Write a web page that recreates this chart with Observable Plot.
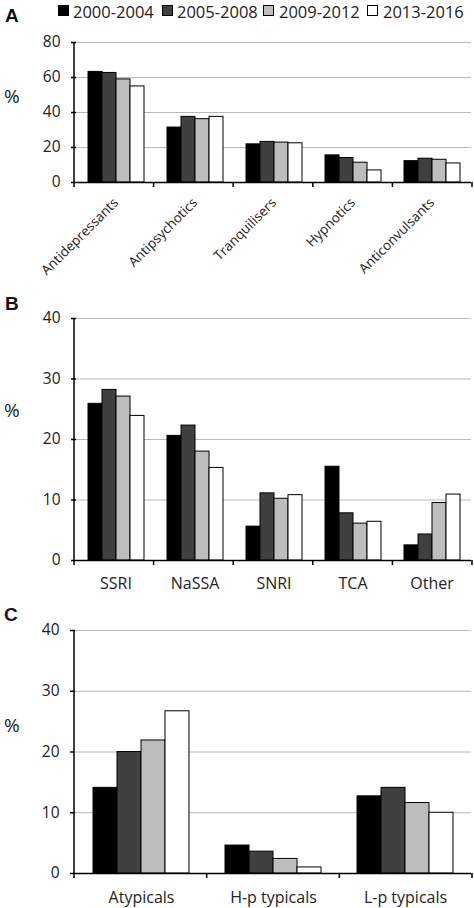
<!DOCTYPE html>
<html>
<head>
<meta charset="utf-8">
<script src="https://cdn.jsdelivr.net/npm/d3@7"></script>
<script src="https://cdn.jsdelivr.net/npm/@observablehq/plot@0.6"></script>
<style>
  html, body { margin: 0; padding: 0; background: #fff; }
  #wrap { position: relative; width: 474px; height: 908px; font-family: "Open Sans", sans-serif; color: #222; overflow: hidden; }
  .panel { position: absolute; left: 0; }
  .letter { position: absolute; font-family: "Liberation Sans", Arial, sans-serif; font-weight: bold; font-size: 19px; line-height: 19px; color: #111; }
  .pct { position: absolute; font-size: 19px; line-height: 19px; color: #222; }
  #legend { position: absolute; top: 0; left: 0; width: 474px; height: 24px; font-size: 16.5px; }
  #legend .sw { position: absolute; top: 5px; width: 9px; height: 9px; border: 1px solid #000; }
  #legend .lab { position: absolute; top: 0px; white-space: nowrap; }
</style>
</head>
<body>
<div id="wrap">
  <div id="legend"></div>
  <div class="letter" style="left:5px;top:6px">A</div>
  <div class="letter" style="left:5px;top:294px">B</div>
  <div class="letter" style="left:4px;top:605px">C</div>
  <div class="pct" style="left:4px;top:87px">%</div>
  <div class="pct" style="left:4px;top:401px">%</div>
  <div class="pct" style="left:4px;top:716px">%</div>
  <div id="pa" class="panel" style="top:0px"></div>
  <div id="pb" class="panel" style="top:290px"></div>
  <div id="pc" class="panel" style="top:600px"></div>
</div>
<script>
// ---- data ----
const periods = ["2000-2004", "2005-2008", "2009-2012", "2013-2016"];
const periodColors = ["#000000", "#404040", "#bdbdbd", "#ffffff"];

const catsA = ["Antidepressants", "Antipsychotics", "Tranquilisers", "Hypnotics", "Anticonvulsants"];
const a2000 = [63.2, 31.4, 21.8, 15.5, 12.2];
const a2005 = [62.6, 37.5, 23.2, 14.0, 13.6];
const a2009 = [58.9, 36.2, 22.8, 11.3, 13.0];
const a2013 = [54.9, 37.5, 22.4, 6.9, 10.9];
const ticksA = [0, 20, 40, 60, 80];

const catsB = ["SSRI", "NaSSA", "SNRI", "TCA", "Other"];
const b2000 = [25.9, 20.6, 5.6, 15.5, 2.5];
const b2005 = [28.2, 22.3, 11.1, 7.8, 4.3];
const b2009 = [27.1, 18.0, 10.2, 6.1, 9.5];
const b2013 = [23.9, 15.3, 10.8, 6.4, 10.9];
const ticksB = [0, 10, 20, 30, 40];

const catsC = ["Atypicals", "H-p typicals", "L-p typicals"];
const c2000 = [14.1, 4.6, 12.7];
const c2005 = [20.0, 3.6, 14.1];
const c2009 = [21.9, 2.4, 11.6];
const c2013 = [26.7, 1.0, 10.0];
const ticksC = [0, 10, 20, 30, 40];

function toRows(cats, series) {
  const rows = [];
  cats.forEach((c, i) => series.forEach((s, j) => rows.push({cat: c, period: periods[j], value: s[i]})));
  return rows;
}

// ---- legend ----
const legendPos = [[58, 73], [162, 177], [263, 279], [367, 383]];
const leg = d3.select("#legend");
periods.forEach((p, i) => {
  leg.append("div").attr("class", "sw").style("left", legendPos[i][0] + "px").style("background", periodColors[i]);
  leg.append("div").attr("class", "lab").style("left", legendPos[i][1] + "px").text(p);
});

function panel(el, cats, series, ticks, cfg) {
  const rows = toRows(cats, series);
  const svgNode = Plot.plot({
    width: 474,
    height: cfg.height,
    marginLeft: 74,
    marginRight: 2,
    marginTop: cfg.mt,
    marginBottom: cfg.mb,
    style: {fontFamily: "Open Sans, sans-serif", color: "#222", background: "transparent", overflow: "visible"},
    fx: {domain: cats, padding: 0, axis: null, label: null},
    x: {domain: periods, paddingInner: 0, paddingOuter: 0.75, axis: null},
    y: {domain: [ticks[0], ticks[ticks.length - 1]], axis: null},
    color: {domain: periods, range: periodColors},
    marks: [
      Plot.gridY(ticks, {stroke: "#b8b8b8", strokeOpacity: 1, strokeWidth: 1}),
      Plot.barY(rows, {fx: "cat", x: "period", y: "value", fill: "period", stroke: "#000", strokeWidth: 1}),
      Plot.ruleY([0], {stroke: "#000", strokeWidth: 1.5}),
      Plot.axisY(ticks, {tickSize: 5, tickPadding: 11, fontSize: 15.5, label: null, stroke: "#000", strokeWidth: 1.5}),
      Plot.axisFx(cfg.rotate
        ? {anchor: "bottom", tickSize: 0, tickPadding: cfg.tp, tickRotate: -45, fontSize: 13.5, label: null, dx: cfg.dx || 0}
        : {anchor: "bottom", tickSize: 0, tickPadding: cfg.tp, fontSize: 16, label: null})
    ]
  });
  // axis frame lines and category boundary ticks from the Plot scales
  const fxd = svgNode.scale("fx");
  const yd = svgNode.scale("y");
  const fx = d3.scaleBand().domain(fxd.domain).range(fxd.range).paddingInner(fxd.paddingInner || 0).paddingOuter(fxd.paddingOuter || 0);
  const y = d3.scaleLinear().domain(yd.domain).range(yd.range);
  const g = d3.select(svgNode).append("g").attr("stroke", "#000").attr("stroke-width", 1.5);
  const x0 = fxd.range[0];
  g.append("line").attr("x1", x0).attr("x2", x0).attr("y1", y(yd.domain[0])).attr("y2", y(yd.domain[1]));
  const edges = fxd.domain.map(d => fx(d)).concat([fxd.range[1]]);
  edges.forEach(e => {
    g.append("line").attr("x1", e).attr("x2", e).attr("y1", y(0)).attr("y2", y(0) + 5);
  });
  document.getElementById(el).appendChild(svgNode);
  return svgNode;
}

panel("pa", catsA, [a2000, a2005, a2009, a2013], ticksA, {height: 290, mt: 42, mb: 108, rotate: true, tp: 18, dx: 0});
panel("pb", catsB, [b2000, b2005, b2009, b2013], ticksB, {height: 310, mt: 28, mb: 40, tp: 17});
panel("pc", catsC, [c2000, c2005, c2009, c2013], ticksC, {height: 308, mt: 30, mb: 35, tp: 18});
</script>
</body>
</html>
